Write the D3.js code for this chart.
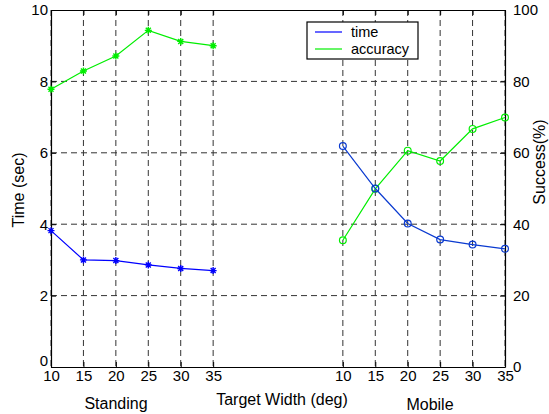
<!DOCTYPE html>
<html>
<head>
<meta charset="utf-8">
<script src="https://cdn.jsdelivr.net/npm/d3@7"></script>
<style>
  body { margin: 0; background: #fff; }
  svg { display: block; font-family: Arial, "Liberation Sans", sans-serif; }
</style>
</head>
<body>
<svg id="chart" width="549" height="414"></svg>
<script>
// data
var widths = [10, 15, 20, 25, 30, 35];
var standPos = [1, 2, 3, 4, 5, 6];       // slot on the shared x axis
var mobilePos = [10, 11, 12, 13, 14, 15];
var standTime = [3.82, 3.0, 2.98, 2.86, 2.76, 2.70];
var standAcc = [77.8, 82.9, 87.1, 94.3, 91.2, 90.0];
var mobileTime = [6.19, 5.0, 4.02, 3.57, 3.43, 3.31];
var mobileAcc = [35.5, 49.9, 60.6, 57.7, 66.7, 69.9];
var timeTicks = [0, 2, 4, 6, 8, 10];
var accTicks = [0, 20, 40, 60, 80, 100];

var svg = d3.select("#chart");
var m = {left: 51, top: 10, right: 44, bottom: 47};
var W = 549 - m.left - m.right, H = 414 - m.top - m.bottom;

var x = d3.scaleLinear().domain([1, 15]).range([0, W]);
var yT = d3.scaleLinear().domain([0, 10]).range([H, 0]);
var yA = d3.scaleLinear().domain([0, 100]).range([H, 0]);

var g = svg.append("g").attr("transform", "translate(" + m.left + "," + m.top + ")");
var xTickPos = standPos.concat(mobilePos);
var xTickLab = widths.concat(widths);

// dashed grid
g.selectAll(".vg").data(xTickPos).enter().append("line")
    .attr("x1", d => x(d)).attr("x2", d => x(d))
    .attr("y1", 0).attr("y2", H)
    .attr("stroke", "#333").attr("stroke-dasharray", "6,4");
g.selectAll(".hg").data(timeTicks.slice(1, 5)).enter().append("line")
    .attr("x1", 0).attr("x2", W)
    .attr("y1", d => yT(d)).attr("y2", d => yT(d))
    .attr("stroke", "#333").attr("stroke-dasharray", "6,4");

// axes box
var bottomAx = g.append("g").attr("transform", "translate(0," + H + ")")
    .call(d3.axisBottom(x).tickValues(xTickPos).tickFormat((d, i) => xTickLab[i]).tickSizeInner(-5).tickSizeOuter(0).tickPadding(3));
var topAx = g.append("g")
    .call(d3.axisTop(x).tickValues(xTickPos).tickFormat("").tickSizeInner(-5).tickSizeOuter(0));
var leftAx = g.append("g")
    .call(d3.axisLeft(yT).tickValues(timeTicks).tickSizeInner(-5).tickSizeOuter(0).tickPadding(3));
var rightAx = g.append("g").attr("transform", "translate(" + W + ",0)")
    .call(d3.axisRight(yA).tickValues(accTicks).tickSizeInner(-5).tickSizeOuter(0).tickPadding(8));
[bottomAx, topAx, leftAx, rightAx].forEach(function (a) {
    a.select(".domain").attr("stroke", "#000").attr("stroke-width", 1.2);
    a.selectAll(".tick line").attr("stroke", "#000");
    a.selectAll("text").attr("font-size", 15).attr("fill", "#000")
        .attr("font-family", "Arial, 'Liberation Sans', sans-serif");
});
// nudge the corner "0" so it doesn't sit on the first x label
leftAx.selectAll(".tick text").filter(d => d === 0).attr("dy", "-0.1em");

// lines and markers
function series(pos, vals, y, color, marker) {
    var pts = pos.map((p, i) => [x(p), y(vals[i])]);
    g.append("path").attr("d", d3.line()(pts))
        .attr("fill", "none").attr("stroke", color).attr("stroke-width", 1.2);
    var mk = g.append("g");
    pts.forEach(function (p) {
        if (marker === "o") {
            mk.append("circle").attr("cx", p[0]).attr("cy", p[1]).attr("r", 3.4)
                .attr("fill", "none").attr("stroke", color).attr("stroke-width", 1.2);
        } else {
            mk.append("path").attr("transform", "translate(" + p[0] + "," + p[1] + ")")
                .attr("d", "M-3.5,0H3.5M0,-3.5V3.5M-2.5,-2.5L2.5,2.5M-2.5,2.5L2.5,-2.5")
                .attr("stroke", color).attr("stroke-width", 1.4);
        }
    });
}
series(standPos, standTime, yT, "#0000ff", "*");
series(standPos, standAcc, yA, "#00ee00", "*");
series(mobilePos, mobileAcc, yA, "#00ee00", "o");
series(mobilePos, mobileTime, yT, "#0a3ad0", "o");

// legend
var lg = svg.append("g").attr("transform", "translate(307,22)");
lg.append("rect").attr("width", 111).attr("height", 37)
    .attr("fill", "#fff").attr("stroke", "#000").attr("stroke-width", 1.2);
[["time", "#0000ff"], ["accuracy", "#00ee00"]].forEach(function (d, i) {
    lg.append("line").attr("x1", 8).attr("x2", 35).attr("y1", 10 + i * 17).attr("y2", 10 + i * 17)
        .attr("stroke", d[1]).attr("stroke-width", 1.2);
    lg.append("text").attr("x", 44).attr("y", 10 + i * 17).attr("dy", "0.35em")
        .attr("font-size", 14.5).text(d[0]);
});

// axis titles
svg.append("text").attr("transform", "translate(24,190) rotate(-90)")
    .attr("text-anchor", "middle").attr("font-size", 16).text("Time (sec)");
svg.append("text").attr("transform", "translate(545,162) rotate(-90)")
    .attr("text-anchor", "middle").attr("font-size", 16).text("Success(%)");
svg.append("text").attr("x", 116).attr("y", 409).attr("text-anchor", "middle")
    .attr("font-size", 16).text("Standing");
svg.append("text").attr("x", 282).attr("y", 405).attr("text-anchor", "middle")
    .attr("font-size", 16).text("Target Width (deg)");
svg.append("text").attr("x", 430).attr("y", 410).attr("text-anchor", "middle")
    .attr("font-size", 16).text("Mobile");
</script>
</body>
</html>
